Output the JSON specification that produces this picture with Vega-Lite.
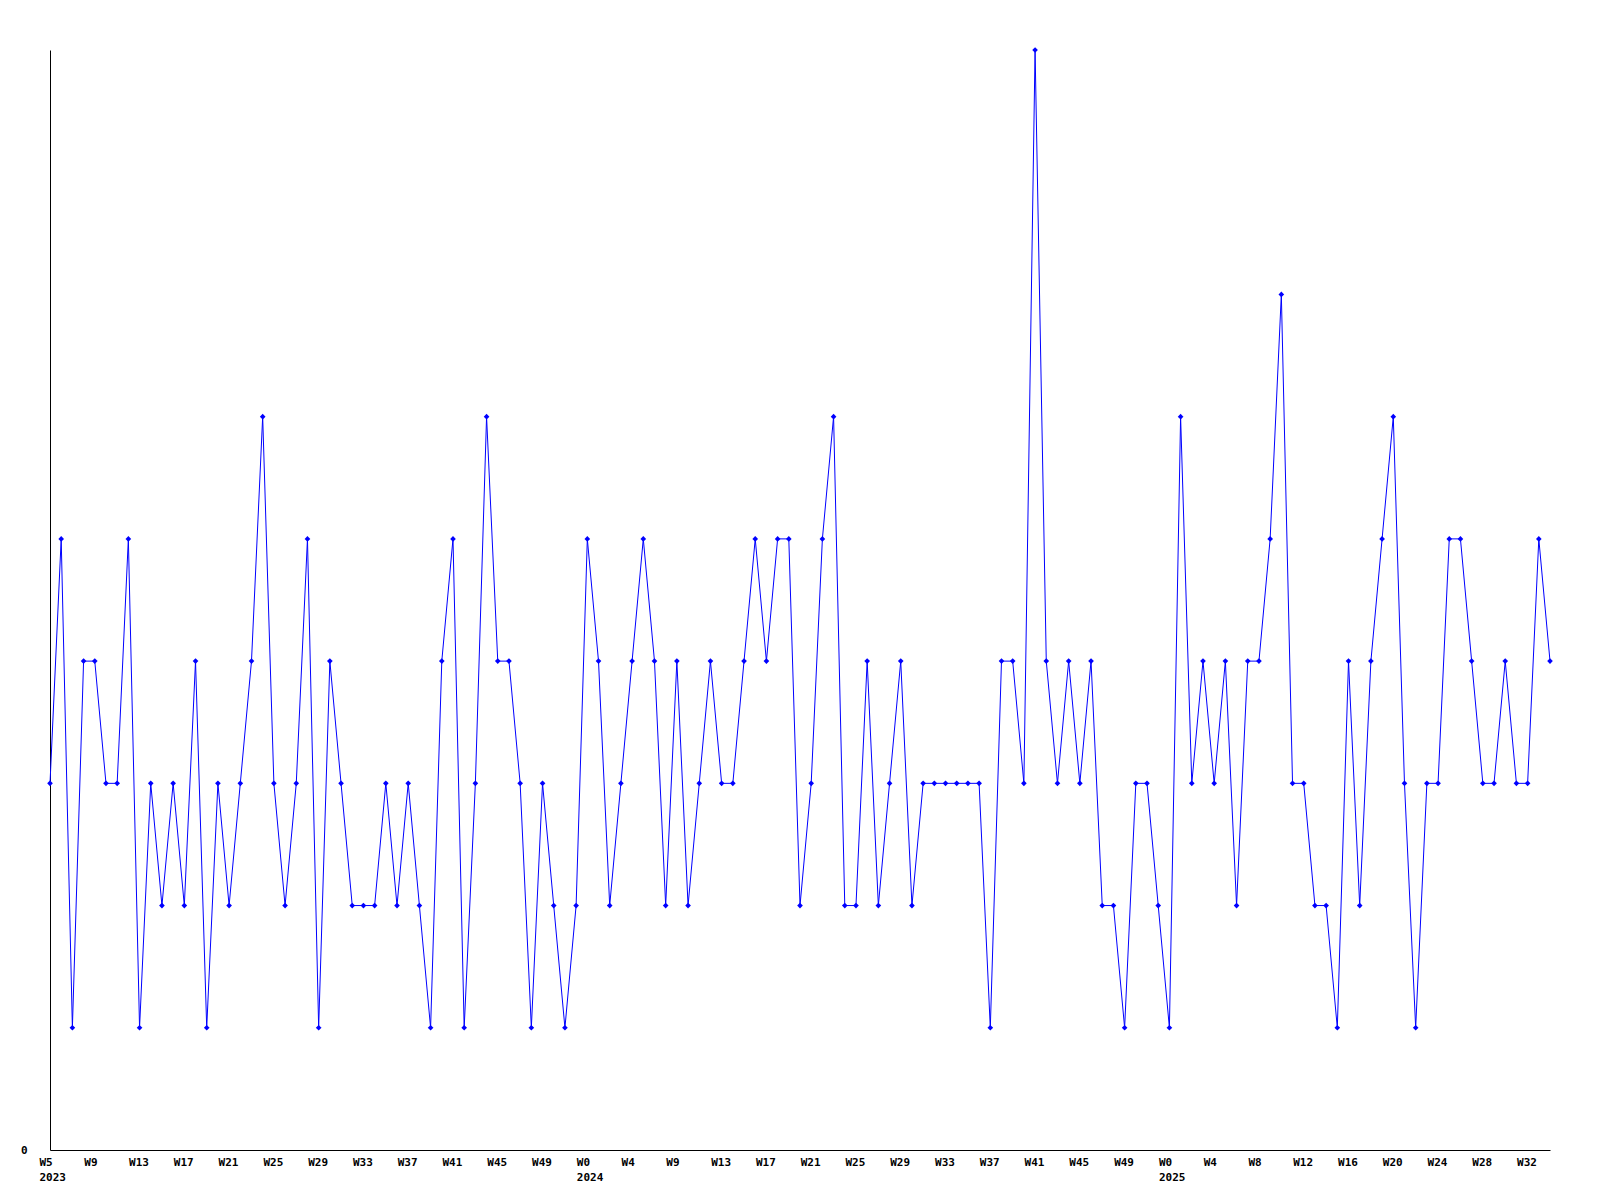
{
  "$schema": "https://vega.github.io/schema/vega-lite/v6.json",
  "width": 1500,
  "height": 1100,
  "autosize": {"type": "none"},
  "padding": {"left": 50, "top": 50, "right": 50, "bottom": 50},
  "background": "white",
  "config": {
    "view": {"stroke": null},
    "axis": {
      "labelFont": "DejaVu Sans Mono",
      "labelFontWeight": "bold",
      "labelFontSize": 11,
      "labelColor": "black",
      "domainColor": "black",
      "domainWidth": 1,
      "ticks": false,
      "grid": false,
      "title": null
    }
  },
  "data": {
    "values": [
      {"i": 0, "v": 3}, {"i": 1, "v": 5}, {"i": 2, "v": 1}, {"i": 3, "v": 4}, {"i": 4, "v": 4},
      {"i": 5, "v": 3}, {"i": 6, "v": 3}, {"i": 7, "v": 5}, {"i": 8, "v": 1}, {"i": 9, "v": 3},
      {"i": 10, "v": 2}, {"i": 11, "v": 3}, {"i": 12, "v": 2}, {"i": 13, "v": 4}, {"i": 14, "v": 1},
      {"i": 15, "v": 3}, {"i": 16, "v": 2}, {"i": 17, "v": 3}, {"i": 18, "v": 4}, {"i": 19, "v": 6},
      {"i": 20, "v": 3}, {"i": 21, "v": 2}, {"i": 22, "v": 3}, {"i": 23, "v": 5}, {"i": 24, "v": 1},
      {"i": 25, "v": 4}, {"i": 26, "v": 3}, {"i": 27, "v": 2}, {"i": 28, "v": 2}, {"i": 29, "v": 2},
      {"i": 30, "v": 3}, {"i": 31, "v": 2}, {"i": 32, "v": 3}, {"i": 33, "v": 2}, {"i": 34, "v": 1},
      {"i": 35, "v": 4}, {"i": 36, "v": 5}, {"i": 37, "v": 1}, {"i": 38, "v": 3}, {"i": 39, "v": 6},
      {"i": 40, "v": 4}, {"i": 41, "v": 4}, {"i": 42, "v": 3}, {"i": 43, "v": 1}, {"i": 44, "v": 3},
      {"i": 45, "v": 2}, {"i": 46, "v": 1}, {"i": 47, "v": 2}, {"i": 48, "v": 5}, {"i": 49, "v": 4},
      {"i": 50, "v": 2}, {"i": 51, "v": 3}, {"i": 52, "v": 4}, {"i": 53, "v": 5}, {"i": 54, "v": 4},
      {"i": 55, "v": 2}, {"i": 56, "v": 4}, {"i": 57, "v": 2}, {"i": 58, "v": 3}, {"i": 59, "v": 4},
      {"i": 60, "v": 3}, {"i": 61, "v": 3}, {"i": 62, "v": 4}, {"i": 63, "v": 5}, {"i": 64, "v": 4},
      {"i": 65, "v": 5}, {"i": 66, "v": 5}, {"i": 67, "v": 2}, {"i": 68, "v": 3}, {"i": 69, "v": 5},
      {"i": 70, "v": 6}, {"i": 71, "v": 2}, {"i": 72, "v": 2}, {"i": 73, "v": 4}, {"i": 74, "v": 2},
      {"i": 75, "v": 3}, {"i": 76, "v": 4}, {"i": 77, "v": 2}, {"i": 78, "v": 3}, {"i": 79, "v": 3},
      {"i": 80, "v": 3}, {"i": 81, "v": 3}, {"i": 82, "v": 3}, {"i": 83, "v": 3}, {"i": 84, "v": 1},
      {"i": 85, "v": 4}, {"i": 86, "v": 4}, {"i": 87, "v": 3}, {"i": 88, "v": 9}, {"i": 89, "v": 4},
      {"i": 90, "v": 3}, {"i": 91, "v": 4}, {"i": 92, "v": 3}, {"i": 93, "v": 4}, {"i": 94, "v": 2},
      {"i": 95, "v": 2}, {"i": 96, "v": 1}, {"i": 97, "v": 3}, {"i": 98, "v": 3}, {"i": 99, "v": 2},
      {"i": 100, "v": 1}, {"i": 101, "v": 6}, {"i": 102, "v": 3}, {"i": 103, "v": 4}, {"i": 104, "v": 3},
      {"i": 105, "v": 4}, {"i": 106, "v": 2}, {"i": 107, "v": 4}, {"i": 108, "v": 4}, {"i": 109, "v": 5},
      {"i": 110, "v": 7}, {"i": 111, "v": 3}, {"i": 112, "v": 3}, {"i": 113, "v": 2}, {"i": 114, "v": 2},
      {"i": 115, "v": 1}, {"i": 116, "v": 4}, {"i": 117, "v": 2}, {"i": 118, "v": 4}, {"i": 119, "v": 5},
      {"i": 120, "v": 6}, {"i": 121, "v": 3}, {"i": 122, "v": 1}, {"i": 123, "v": 3}, {"i": 124, "v": 3},
      {"i": 125, "v": 5}, {"i": 126, "v": 5}, {"i": 127, "v": 4}, {"i": 128, "v": 3}, {"i": 129, "v": 3},
      {"i": 130, "v": 4}, {"i": 131, "v": 3}, {"i": 132, "v": 3}, {"i": 133, "v": 5}, {"i": 134, "v": 4}
    ]
  },
  "encoding": {
    "x": {
      "field": "i",
      "type": "quantitative",
      "scale": {"domain": [0, 134], "nice": false, "zero": false},
      "axis": {
        "values": [0, 4, 8, 12, 16, 20, 24, 28, 32, 36, 40, 44, 48, 52, 56, 60, 64, 68, 72, 76, 80, 84, 88, 92, 96, 100, 104, 108, 112, 116, 120, 124, 128, 132],
        "labelAlign": "left",
        "labelOffset": -11,
        "labelBaseline": "top",
        "labelPadding": 6,
        "labelLineHeight": 15,
        "labelOverlap": false,
        "labelFlush": false,
        "labelExpr": "[['W5','W9','W13','W17','W21','W25','W29','W33','W37','W41','W45','W49','W0','W4','W9','W13','W17','W21','W25','W29','W33','W37','W41','W45','W49','W0','W4','W8','W12','W16','W20','W24','W28','W32'][round(datum.value/4)], datum.value==0 ? '2023' : datum.value==48 ? '2024' : datum.value==100 ? '2025' : '']"
      }
    },
    "y": {
      "field": "v",
      "type": "quantitative",
      "scale": {"domain": [0, 9], "nice": false},
      "axis": {"values": [0], "labelPadding": 23, "labelBaseline": "middle"}
    }
  },
  "layer": [
    {"mark": {"type": "line", "color": "#0000ff", "strokeWidth": 1}},
    {"mark": {"type": "point", "shape": "diamond", "filled": true, "color": "#0000ff", "size": 32, "opacity": 1}}
  ]
}
